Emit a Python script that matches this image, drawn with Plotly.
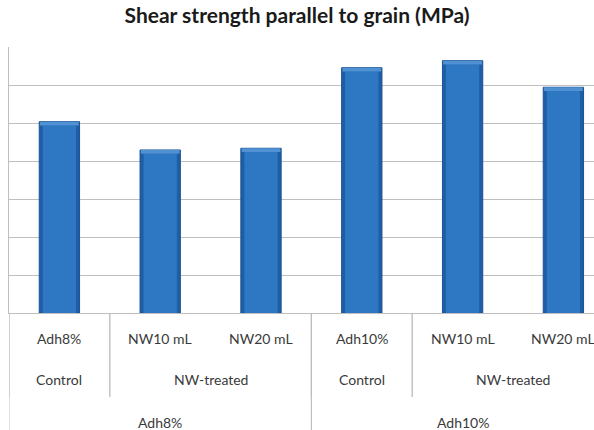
import plotly.graph_objects as go

# Shear strength parallel to grain, MPa
treatments = ["Adh8%", "NW10 mL", "NW20 mL", "Adh10%", "NW10 mL", "NW20 mL"]
groups = ["Control", "NW-treated", "NW-treated", "Control", "NW-treated", "NW-treated"]
adhesive = ["Adh8%", "Adh8%", "Adh8%", "Adh10%", "Adh10%", "Adh10%"]
shear_mpa = [10.07, 8.58, 8.67, 12.91, 13.28, 11.88]

W, H = 594, 430
M_L, M_R, M_T, M_B = 9, 0, 47, 117
plot_h = H - M_T - M_B
cat_px = 100.8
x_pos = list(range(len(treatments)))
x_max = -0.5 + (W - M_L - M_R) / cat_px
Y_MAX = 14

FONT = "Lato"
TXT = "#3a3a3a"
LINE = "#bfbfbf"

# bevelled column look: dark body, lighter core, light top edge
cap = 0.2  # height of the light top edge, in axis units
fig = go.Figure()
fig.add_bar(
    x=x_pos, y=shear_mpa, width=0.4,
    marker=dict(color="#1f5ea6", line=dict(color="#1a5292", width=1)),
    hoverinfo="y",
)
fig.add_bar(
    x=x_pos, y=[v - cap for v in shear_mpa], width=0.33,
    marker=dict(color="#2e78c3", line=dict(width=0)),
    hoverinfo="skip",
)
fig.add_bar(
    x=x_pos, y=[cap] * len(shear_mpa),
    base=[v - cap for v in shear_mpa], width=0.385,
    marker=dict(color="#4f91d2", line=dict(width=0)),
    hoverinfo="skip",
)


def runs(labels):
    """Consecutive runs of equal labels -> (label, first index, last index)."""
    out, start = [], 0
    for i in range(1, len(labels) + 1):
        if i == len(labels) or labels[i] != labels[start]:
            out.append((labels[start], start, i - 1))
            start = i
    return out


annotations = []
shapes = []


def px_to_paper(dy):
    return -dy / plot_h


levels = [(treatments, 25, None), (groups, 66, 84), (adhesive, 109, M_B)]
for labels, off, sep_len in levels:
    for lab, a, b in runs(labels):
        annotations.append(dict(
            x=(a + b) / 2, y=0, xref="x", yref="paper",
            text=lab, showarrow=False, yanchor="middle", yshift=-off,
            font=dict(family=FONT, size=14, color=TXT),
        ))
        if sep_len is not None:
            for xb in (a - 0.5, b + 0.5):
                shapes.append(dict(
                    type="line", xref="x", yref="paper",
                    x0=xb, x1=xb, y0=0, y1=px_to_paper(sep_len),
                    line=dict(color=LINE, width=1),
                ))

fig.update_layout(
    width=W, height=H,
    margin=dict(l=M_L, r=M_R, t=M_T, b=M_B),
    paper_bgcolor="white", plot_bgcolor="white",
    barmode="overlay",
    title=dict(
        text="<b>Shear strength parallel to grain (MPa)</b>",
        x=0.5, xanchor="center", y=1 - 16 / H, yanchor="middle",
        font=dict(family=FONT, size=21, color="#1a1a1a"),
    ),
    xaxis=dict(
        range=[-0.5, x_max], showticklabels=False, showgrid=False,
        showline=True, linecolor=LINE, linewidth=1, zeroline=False, ticks="",
    ),
    yaxis=dict(
        range=[0, Y_MAX], dtick=2, showticklabels=False, showgrid=True,
        gridcolor=LINE, gridwidth=1, showline=True, linecolor=LINE,
        linewidth=1, zeroline=False, ticks="",
    ),
    annotations=annotations,
    shapes=shapes,
    showlegend=False,
)

fig.write_html("out.html")
